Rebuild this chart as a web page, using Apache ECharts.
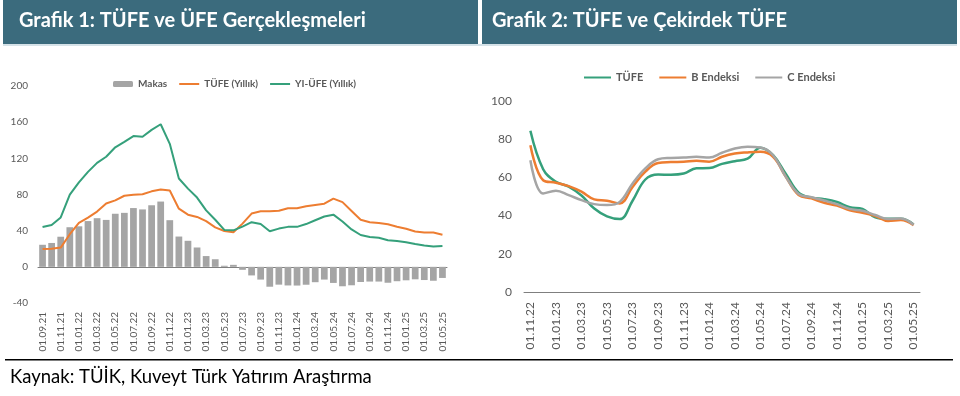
<!DOCTYPE html>
<html>
<head>
<meta charset="utf-8">
<script src="https://cdn.jsdelivr.net/npm/echarts@6/dist/echarts.min.js"></script>
<style>
html,body{margin:0;padding:0;background:#fff;}
#main{width:960px;height:396px;}
</style>
</head>
<body>
<div id="main"></div>
<script>
// Grafik 1: aylar (01.09.21 - 01.05.25)
var months1 = ['01.09.21','01.10.21','01.11.21','01.12.21',
    '01.01.22','01.02.22','01.03.22','01.04.22','01.05.22','01.06.22','01.07.22','01.08.22','01.09.22','01.10.22','01.11.22','01.12.22',
    '01.01.23','01.02.23','01.03.23','01.04.23','01.05.23','01.06.23','01.07.23','01.08.23','01.09.23','01.10.23','01.11.23','01.12.23',
    '01.01.24','01.02.24','01.03.24','01.04.24','01.05.24','01.06.24','01.07.24','01.08.24','01.09.24','01.10.24','01.11.24','01.12.24',
    '01.01.25','01.02.25','01.03.25','01.04.25','01.05.25'];
var tufeYillik = [19.6,19.9,21.3,36.1,48.7,54.4,61.1,70.0,73.5,78.6,79.6,80.2,83.5,85.5,84.4,64.3,
    57.7,55.2,50.5,43.7,39.6,38.2,47.8,58.9,61.5,61.4,62.0,64.8,
    64.9,67.1,68.5,69.8,75.5,71.6,61.8,52.0,49.4,48.6,47.1,44.4,
    42.1,39.1,38.1,37.9,35.4];
var ufeYillik = [44.0,46.3,54.6,79.9,93.5,105.0,115.0,121.8,132.2,138.3,144.6,143.8,151.5,157.7,136.0,97.7,
    86.5,76.6,62.5,52.1,40.8,40.4,44.5,49.4,47.4,39.4,42.3,44.2,
    44.2,47.3,51.5,55.7,57.7,50.1,41.4,35.2,33.1,32.2,29.5,28.5,
    27.2,25.2,23.5,22.5,23.1];
var makas = [24.4,26.4,33.3,43.8,44.8,50.6,53.8,51.9,58.7,59.7,65.0,63.5,68.1,72.2,51.6,33.5,
    28.8,21.4,11.9,8.4,1.2,2.2,-3.3,-9.5,-14.1,-22.0,-19.7,-20.6,
    -20.7,-19.8,-17.0,-14.1,-17.8,-21.5,-20.4,-16.8,-16.3,-16.3,-17.6,-15.9,
    -14.9,-13.8,-14.6,-15.4,-12.3];

// Grafik 2: aylar (01.11.22 - 01.05.25)
var months2 = months1.slice(14);
var tufe2 = [84.4,64.3,57.7,55.2,50.5,43.7,39.6,38.2,47.8,58.9,61.5,61.4,62.0,64.8,
    64.9,67.1,68.5,69.8,75.5,71.6,61.8,52.0,49.4,48.6,47.1,44.4,43.5,39.1,38.3,38.4,35.4];
var bEndeksi = [76.8,58.5,57.2,55.4,52.5,48.5,47.8,46.4,55.0,63.0,67.5,68.0,68.2,68.7,
    68.2,70.8,72.5,73.1,73.4,70.8,60.3,50.8,49.0,46.7,45.2,42.8,41.5,39.8,37.2,37.7,35.0];
var cEndeksi = [69.0,51.6,53.0,50.7,48.1,46.0,45.5,47.2,56.8,64.7,69.5,70.2,70.4,70.8,
    70.4,72.9,75.1,76.0,75.6,71.6,60.3,51.3,49.6,47.9,46.0,43.5,42.5,40.3,38.2,38.5,35.2];

var FONT = 'Lato';
var GREEN = '#35a07b', ORANGE = '#ed7d31', GRAY = '#a5a5a5';
var labelGray = '#595959';
var noDot = {opacity: 0}; // lejantta yalniz cizgi kalsin

var chart = echarts.init(document.getElementById('main'));
var option = {
    backgroundColor: '#fff',
    animation: false,
    textStyle: {fontFamily: FONT},
    graphic: [
        {type: 'rect', shape: {x: 3, y: 0, width: 475, height: 44}, style: {fill: '#3b6b7d'}},
        {type: 'rect', shape: {x: 482, y: 0, width: 475, height: 44}, style: {fill: '#3b6b7d'}},
        {type: 'rect', shape: {x: 3, y: 44, width: 954, height: 2}, style: {fill: '#d5e2e8'}},
        {type: 'text', left: 19, top: 11, style: {text: 'Grafik 1: TÜFE ve ÜFE Gerçekleşmeleri', fill: '#fff', font: 'bold 20px Lato'}},
        {type: 'text', left: 492, top: 11, style: {text: 'Grafik 2: TÜFE ve Çekirdek TÜFE', fill: '#fff', font: 'bold 20px Lato'}},
        {type: 'rect', shape: {x: 5, y: 359, width: 948, height: 1.5}, style: {fill: '#000'}},
        {type: 'text', left: 10, top: 368, style: {text: 'Kaynak: TÜİK, Kuveyt Türk Yatırım Araştırma', fill: '#000', font: '18.5px Lato'}}
    ],
    legend: [{
        left: 108, top: 74,
        itemWidth: 20, itemHeight: 6, itemGap: 11,
        textStyle: {fontSize: 10, fontWeight: 'bold', color: labelGray, fontFamily: FONT},
        data: ['Makas', {name: 'TÜFE (Yıllık)', itemStyle: noDot}, {name: 'YI-ÜFE (Yıllık)', itemStyle: noDot}]
    }, {
        left: 578, top: 67,
        itemWidth: 27, itemHeight: 6, itemGap: 15,
        textStyle: {fontSize: 11, fontWeight: 'bold', color: labelGray, fontFamily: FONT},
        data: [{name: 'TÜFE', itemStyle: noDot}, {name: 'B Endeksi', itemStyle: noDot}, {name: 'C Endeksi', itemStyle: noDot}]
    }],
    grid: [
        {left: 38, right: 513, top: 86, bottom: 93},
        {left: 524, right: 40, top: 101, bottom: 104}
    ],
    xAxis: [{
        type: 'category', gridIndex: 0, data: months1,
        axisLine: {onZero: true, lineStyle: {color: '#7f7f7f'}},
        axisTick: {interval: 1, length: 4, lineStyle: {color: '#7f7f7f'}},
        axisLabel: {interval: 1, rotate: 90, margin: 9, fontSize: 10, color: labelGray, fontFamily: FONT}
    }, {
        type: 'category', gridIndex: 1, data: months2,
        axisLine: {lineStyle: {color: '#7f7f7f'}},
        axisTick: {interval: 1, length: 5, lineStyle: {color: '#7f7f7f'}},
        axisLabel: {interval: 1, rotate: 90, margin: 10, fontSize: 12, color: labelGray, fontFamily: FONT}
    }],
    yAxis: [{
        type: 'value', gridIndex: 0, min: -40, max: 200, interval: 40,
        axisLine: {show: false}, axisTick: {show: false}, splitLine: {show: false},
        axisLabel: {margin: 10, fontSize: 10, color: labelGray, fontFamily: FONT}
    }, {
        type: 'value', gridIndex: 1, min: 0, max: 100, interval: 20,
        axisLine: {show: false}, axisTick: {show: false}, splitLine: {show: false},
        axisLabel: {margin: 12, fontSize: 12, color: labelGray, fontFamily: FONT}
    }],
    series: [{
        name: 'Makas', type: 'bar', xAxisIndex: 0, yAxisIndex: 0,
        barCategoryGap: '26%', itemStyle: {color: GRAY},
        data: makas
    }, {
        name: 'TÜFE (Yıllık)', type: 'line', xAxisIndex: 0, yAxisIndex: 0,
        symbol: 'none', lineStyle: {color: ORANGE, width: 2}, itemStyle: {color: ORANGE},
        data: tufeYillik
    }, {
        name: 'YI-ÜFE (Yıllık)', type: 'line', xAxisIndex: 0, yAxisIndex: 0,
        symbol: 'none', lineStyle: {color: GREEN, width: 2}, itemStyle: {color: GREEN},
        data: ufeYillik
    }, {
        name: 'TÜFE', type: 'line', xAxisIndex: 1, yAxisIndex: 1, smooth: 0.4,
        symbol: 'none', lineStyle: {color: GREEN, width: 2.5}, itemStyle: {color: GREEN},
        data: tufe2
    }, {
        name: 'B Endeksi', type: 'line', xAxisIndex: 1, yAxisIndex: 1, smooth: 0.4,
        symbol: 'none', lineStyle: {color: ORANGE, width: 2.5}, itemStyle: {color: ORANGE},
        data: bEndeksi
    }, {
        name: 'C Endeksi', type: 'line', xAxisIndex: 1, yAxisIndex: 1, smooth: 0.4,
        symbol: 'none', lineStyle: {color: GRAY, width: 2.5}, itemStyle: {color: GRAY},
        data: cEndeksi
    }]
};
chart.setOption(option);
</script>
</body>
</html>
